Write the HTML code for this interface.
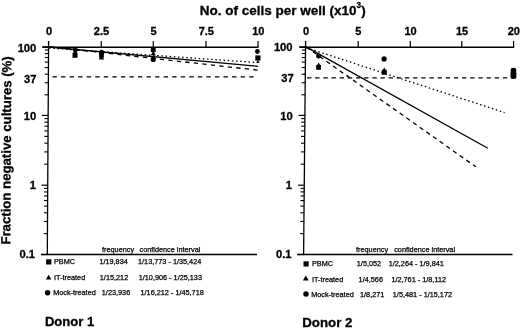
<!DOCTYPE html>
<html><head><meta charset="utf-8"><style>
html,body{margin:0;padding:0;background:#fff;width:520px;height:328px;overflow:hidden}
svg{display:block;will-change:transform}
text{font-family:"Liberation Sans",sans-serif}
</style></head><body>
<svg width="520" height="328" viewBox="0 0 520 328">
<g stroke="#000" fill="none" stroke-linecap="butt">
<line x1="48.60" y1="41.00" x2="47.30" y2="255.10" stroke-width="1.3" />
<line x1="42.30" y1="47.20" x2="258.50" y2="47.20" stroke-width="1.5" />
<line x1="101.30" y1="41.00" x2="101.30" y2="46.90" stroke-width="1.2" />
<line x1="153.30" y1="41.00" x2="153.30" y2="46.90" stroke-width="1.2" />
<line x1="206.00" y1="41.00" x2="206.00" y2="46.90" stroke-width="1.2" />
<line x1="258.00" y1="41.00" x2="258.00" y2="46.90" stroke-width="1.2" />
<line x1="41.00" y1="254.50" x2="257.00" y2="254.50" stroke-width="1.3" />
<line x1="44.60" y1="94.78" x2="48.30" y2="94.78" stroke-width="1.1" />
<line x1="44.68" y1="82.72" x2="48.38" y2="82.72" stroke-width="1.1" />
<line x1="44.73" y1="74.16" x2="48.43" y2="74.16" stroke-width="1.1" />
<line x1="44.77" y1="67.52" x2="48.47" y2="67.52" stroke-width="1.1" />
<line x1="44.80" y1="62.10" x2="48.50" y2="62.10" stroke-width="1.1" />
<line x1="44.83" y1="57.51" x2="48.53" y2="57.51" stroke-width="1.1" />
<line x1="44.86" y1="53.54" x2="48.56" y2="53.54" stroke-width="1.1" />
<line x1="44.88" y1="50.03" x2="48.58" y2="50.03" stroke-width="1.1" />
<line x1="44.17" y1="164.19" x2="47.87" y2="164.19" stroke-width="1.1" />
<line x1="44.24" y1="151.90" x2="47.94" y2="151.90" stroke-width="1.1" />
<line x1="44.30" y1="143.18" x2="48.00" y2="143.18" stroke-width="1.1" />
<line x1="44.34" y1="136.41" x2="48.04" y2="136.41" stroke-width="1.1" />
<line x1="44.37" y1="130.89" x2="48.07" y2="130.89" stroke-width="1.1" />
<line x1="44.40" y1="126.21" x2="48.10" y2="126.21" stroke-width="1.1" />
<line x1="44.43" y1="122.16" x2="48.13" y2="122.16" stroke-width="1.1" />
<line x1="44.45" y1="118.59" x2="48.15" y2="118.59" stroke-width="1.1" />
<line x1="43.73" y1="233.64" x2="47.43" y2="233.64" stroke-width="1.1" />
<line x1="43.81" y1="221.44" x2="47.51" y2="221.44" stroke-width="1.1" />
<line x1="43.86" y1="212.78" x2="47.56" y2="212.78" stroke-width="1.1" />
<line x1="43.90" y1="206.06" x2="47.60" y2="206.06" stroke-width="1.1" />
<line x1="43.94" y1="200.57" x2="47.64" y2="200.57" stroke-width="1.1" />
<line x1="43.97" y1="195.93" x2="47.67" y2="195.93" stroke-width="1.1" />
<line x1="43.99" y1="191.92" x2="47.69" y2="191.92" stroke-width="1.1" />
<line x1="44.01" y1="188.37" x2="47.71" y2="188.37" stroke-width="1.1" />
<line x1="42.30" y1="46.90" x2="48.60" y2="46.90" stroke-width="1.2" />
<line x1="41.87" y1="115.40" x2="48.17" y2="115.40" stroke-width="1.2" />
<line x1="41.43" y1="185.20" x2="47.73" y2="185.20" stroke-width="1.2" />
<line x1="41.00" y1="254.50" x2="47.30" y2="254.50" stroke-width="1.2" />
<line x1="52.50" y1="76.80" x2="256.00" y2="76.80" stroke-width="1.3" stroke-dasharray="4.4 4.15"/>
<line x1="305.60" y1="41.00" x2="303.60" y2="255.10" stroke-width="1.3" />
<line x1="299.30" y1="47.20" x2="514.20" y2="47.20" stroke-width="1.5" />
<line x1="358.20" y1="41.00" x2="358.20" y2="46.90" stroke-width="1.2" />
<line x1="410.30" y1="41.00" x2="410.30" y2="46.90" stroke-width="1.2" />
<line x1="461.80" y1="41.00" x2="461.80" y2="46.90" stroke-width="1.2" />
<line x1="513.60" y1="41.00" x2="513.60" y2="46.90" stroke-width="1.2" />
<line x1="297.30" y1="254.50" x2="512.50" y2="254.50" stroke-width="1.3" />
<line x1="301.44" y1="94.78" x2="305.14" y2="94.78" stroke-width="1.1" />
<line x1="301.55" y1="82.72" x2="305.25" y2="82.72" stroke-width="1.1" />
<line x1="301.64" y1="74.16" x2="305.34" y2="74.16" stroke-width="1.1" />
<line x1="301.70" y1="67.52" x2="305.40" y2="67.52" stroke-width="1.1" />
<line x1="301.75" y1="62.10" x2="305.45" y2="62.10" stroke-width="1.1" />
<line x1="301.80" y1="57.51" x2="305.50" y2="57.51" stroke-width="1.1" />
<line x1="301.84" y1="53.54" x2="305.54" y2="53.54" stroke-width="1.1" />
<line x1="301.87" y1="50.03" x2="305.57" y2="50.03" stroke-width="1.1" />
<line x1="300.77" y1="164.19" x2="304.47" y2="164.19" stroke-width="1.1" />
<line x1="300.89" y1="151.90" x2="304.59" y2="151.90" stroke-width="1.1" />
<line x1="300.97" y1="143.18" x2="304.67" y2="143.18" stroke-width="1.1" />
<line x1="301.04" y1="136.41" x2="304.74" y2="136.41" stroke-width="1.1" />
<line x1="301.09" y1="130.89" x2="304.79" y2="130.89" stroke-width="1.1" />
<line x1="301.14" y1="126.21" x2="304.84" y2="126.21" stroke-width="1.1" />
<line x1="301.17" y1="122.16" x2="304.87" y2="122.16" stroke-width="1.1" />
<line x1="301.21" y1="118.59" x2="304.91" y2="118.59" stroke-width="1.1" />
<line x1="300.10" y1="233.64" x2="303.80" y2="233.64" stroke-width="1.1" />
<line x1="300.22" y1="221.44" x2="303.92" y2="221.44" stroke-width="1.1" />
<line x1="300.30" y1="212.78" x2="304.00" y2="212.78" stroke-width="1.1" />
<line x1="300.37" y1="206.06" x2="304.07" y2="206.06" stroke-width="1.1" />
<line x1="300.42" y1="200.57" x2="304.12" y2="200.57" stroke-width="1.1" />
<line x1="300.46" y1="195.93" x2="304.16" y2="195.93" stroke-width="1.1" />
<line x1="300.50" y1="191.92" x2="304.20" y2="191.92" stroke-width="1.1" />
<line x1="300.54" y1="188.37" x2="304.24" y2="188.37" stroke-width="1.1" />
<line x1="299.30" y1="46.90" x2="305.60" y2="46.90" stroke-width="1.2" />
<line x1="298.64" y1="115.40" x2="304.94" y2="115.40" stroke-width="1.2" />
<line x1="297.97" y1="185.20" x2="304.27" y2="185.20" stroke-width="1.2" />
<line x1="297.30" y1="254.50" x2="303.60" y2="254.50" stroke-width="1.2" />
<line x1="307.00" y1="77.80" x2="508.00" y2="77.80" stroke-width="1.3" stroke-dasharray="4.4 3.76"/>
<line x1="48.60" y1="48.00" x2="255.00" y2="62.40" stroke-width="1.3" stroke-dasharray="1.5 2.66" stroke-dashoffset="3.45"/>
<line x1="48.60" y1="47.00" x2="258.00" y2="66.30" stroke-width="1.3" />
<line x1="48.60" y1="46.60" x2="258.00" y2="70.20" stroke-width="1.3" stroke-dasharray="4.3 4.25" stroke-dashoffset="7.8"/>
<line x1="305.60" y1="47.50" x2="504.60" y2="112.60" stroke-width="1.3" stroke-dasharray="1.5 2.65" stroke-dashoffset="3.24"/>
<line x1="305.60" y1="46.60" x2="487.80" y2="148.30" stroke-width="1.3" />
<line x1="305.60" y1="46.60" x2="475.80" y2="166.80" stroke-width="1.3" stroke-dasharray="4.3 3.86" stroke-dashoffset="7.2"/>
</g>
<g fill="#000" stroke="none">
<circle cx="75.20" cy="49.80" r="2.5"/>
<path d="M75.20 49.54L77.45 53.46L72.95 53.46Z"/>
<rect x="72.50" y="52.80" width="5" height="5"/>
<circle cx="101.60" cy="52.30" r="2.5"/>
<rect x="99.10" y="52.90" width="4.8" height="4.8"/>
<path d="M101.50 54.75L104.20 59.45L98.80 59.45Z"/>
<rect x="150.90" y="47.20" width="4.8" height="4.8"/>
<path d="M153.30 50.83L155.80 55.17L150.80 55.17Z"/>
<circle cx="153.20" cy="59.40" r="2.6"/>
<circle cx="257.40" cy="51.50" r="2.4"/>
<rect x="255.30" y="55.40" width="5.2" height="5.2"/>
<path d="M257.90 59.98L259.65 63.02L256.15 63.02Z"/>
<circle cx="318.60" cy="56.00" r="2.5"/>
<path d="M318.60 62.62L321.10 66.97L316.10 66.97Z"/>
<rect x="316.20" y="65.00" width="4.8" height="4.8"/>
<circle cx="384.10" cy="58.90" r="2.6"/>
<path d="M384.20 67.41L386.95 72.19L381.45 72.19Z"/>
<rect x="381.70" y="69.80" width="5" height="5"/>
<rect x="510.7" y="67.8" width="5.5" height="11" rx="2.75" ry="2.4"/>
<rect x="510.7" y="72" width="5.5" height="6.6" rx="0.8"/>
</g>
<g fill="#000" font-family="Liberation Sans, sans-serif">
<text x="199.8" y="14.5" font-size="13.5" font-weight="bold" stroke="#000" stroke-width="0.3">No. of cells per well (x10<tspan font-size="8.2" dy="-6.3">3</tspan><tspan dy="6.3">)</tspan></text>
<text transform="translate(10.2,244.6) rotate(-89.62)" font-size="13.2" font-weight="bold" stroke="#000" stroke-width="0.3">Fraction negative cultures (%)</text>
<text x="49.1" y="34.8" font-size="11" font-weight="bold" text-anchor="middle" stroke="#000" stroke-width="0.3">0</text>
<text x="101.5" y="34.8" font-size="11" font-weight="bold" text-anchor="middle" stroke="#000" stroke-width="0.3">2.5</text>
<text x="153.6" y="34.8" font-size="11" font-weight="bold" text-anchor="middle" stroke="#000" stroke-width="0.3">5</text>
<text x="206.3" y="34.8" font-size="11" font-weight="bold" text-anchor="middle" stroke="#000" stroke-width="0.3">7.5</text>
<text x="258.3" y="34.8" font-size="11" font-weight="bold" text-anchor="middle" stroke="#000" stroke-width="0.3">10</text>
<text x="306" y="34.8" font-size="11" font-weight="bold" text-anchor="middle" stroke="#000" stroke-width="0.3">0</text>
<text x="358.2" y="34.8" font-size="11" font-weight="bold" text-anchor="middle" stroke="#000" stroke-width="0.3">5</text>
<text x="410.5" y="34.8" font-size="11" font-weight="bold" text-anchor="middle" stroke="#000" stroke-width="0.3">10</text>
<text x="462.0" y="34.8" font-size="11" font-weight="bold" text-anchor="middle" stroke="#000" stroke-width="0.3">15</text>
<text x="513.8" y="34.8" font-size="11" font-weight="bold" text-anchor="middle" stroke="#000" stroke-width="0.3">20</text>
<text x="36.3" y="51.55" font-size="11.2" font-weight="bold" text-anchor="end" stroke="#000" stroke-width="0.3">100</text>
<text x="36.45" y="82.55" font-size="11.2" font-weight="bold" text-anchor="end" stroke="#000" stroke-width="0.3">37</text>
<text x="36.2" y="120.35" font-size="11.2" font-weight="bold" text-anchor="end" stroke="#000" stroke-width="0.3">10</text>
<text x="36.05" y="189.35" font-size="11.2" font-weight="bold" text-anchor="end" stroke="#000" stroke-width="0.3">1</text>
<text x="35.05" y="258.25" font-size="11.2" font-weight="bold" text-anchor="end" stroke="#000" stroke-width="0.3">0.1</text>
<text x="292.55" y="50.85" font-size="11.2" font-weight="bold" text-anchor="end" stroke="#000" stroke-width="0.3">100</text>
<text x="293.7" y="82.1" font-size="11.2" font-weight="bold" text-anchor="end" stroke="#000" stroke-width="0.3">37</text>
<text x="292.8" y="119.85" font-size="11.2" font-weight="bold" text-anchor="end" stroke="#000" stroke-width="0.3">10</text>
<text x="291.95" y="189.1" font-size="11.2" font-weight="bold" text-anchor="end" stroke="#000" stroke-width="0.3">1</text>
<text x="291.55" y="258.1" font-size="11.2" font-weight="bold" text-anchor="end" stroke="#000" stroke-width="0.3">0.1</text>
<text x="102" y="252.2" font-size="7.3" font-weight="normal" text-anchor="start" stroke="#000" stroke-width="0.25">frequency</text>
<text x="139.5" y="252.2" font-size="7.3" font-weight="normal" text-anchor="start" stroke="#000" stroke-width="0.25">confidence interval</text>
<text x="54" y="264.4" font-size="7.3" font-weight="normal" text-anchor="start" stroke="#000" stroke-width="0.25">PBMC</text>
<text x="99.4" y="264.4" font-size="7.3" font-weight="normal" text-anchor="start" stroke="#000" stroke-width="0.25">1/19,834</text>
<text x="138.0" y="264.4" font-size="7.3" font-weight="normal" text-anchor="start" stroke="#000" stroke-width="0.25">1/13,773 - 1/35,424</text>
<text x="54" y="280.1" font-size="7.3" font-weight="normal" text-anchor="start" stroke="#000" stroke-width="0.25">IT-treated</text>
<text x="99.8" y="280.1" font-size="7.3" font-weight="normal" text-anchor="start" stroke="#000" stroke-width="0.25">1/15,212</text>
<text x="138.7" y="280.1" font-size="7.3" font-weight="normal" text-anchor="start" stroke="#000" stroke-width="0.25">1/10,906 - 1/25,133</text>
<text x="53.2" y="295.4" font-size="7.3" font-weight="normal" text-anchor="start" stroke="#000" stroke-width="0.25">Mock-treated</text>
<text x="101.8" y="295.4" font-size="7.3" font-weight="normal" text-anchor="start" stroke="#000" stroke-width="0.25">1/23,936</text>
<text x="140.5" y="295.4" font-size="7.3" font-weight="normal" text-anchor="start" stroke="#000" stroke-width="0.25">1/16,212 - 1/45,718</text>
<text x="356" y="252.2" font-size="7.3" font-weight="normal" text-anchor="start" stroke="#000" stroke-width="0.25">frequency</text>
<text x="394.2" y="252.2" font-size="7.3" font-weight="normal" text-anchor="start" stroke="#000" stroke-width="0.25">confidence interval</text>
<text x="312" y="266.3" font-size="7.3" font-weight="normal" text-anchor="start" stroke="#000" stroke-width="0.25">PBMC</text>
<text x="356.8" y="266.3" font-size="7.3" font-weight="normal" text-anchor="start" stroke="#000" stroke-width="0.25">1/5,052</text>
<text x="388.7" y="266.3" font-size="7.3" font-weight="normal" text-anchor="start" stroke="#000" stroke-width="0.25">1/2,264 - 1/9,841</text>
<text x="312" y="281.8" font-size="7.3" font-weight="normal" text-anchor="start" stroke="#000" stroke-width="0.25">IT-treated</text>
<text x="358.6" y="281.8" font-size="7.3" font-weight="normal" text-anchor="start" stroke="#000" stroke-width="0.25">1/4,566</text>
<text x="391.4" y="281.8" font-size="7.3" font-weight="normal" text-anchor="start" stroke="#000" stroke-width="0.25">1/2,761 - 1/8,112</text>
<text x="311.2" y="296.9" font-size="7.3" font-weight="normal" text-anchor="start" stroke="#000" stroke-width="0.25">Mock-treated</text>
<text x="360.0" y="296.9" font-size="7.3" font-weight="normal" text-anchor="start" stroke="#000" stroke-width="0.25">1/8,271</text>
<text x="392.8" y="296.9" font-size="7.3" font-weight="normal" text-anchor="start" stroke="#000" stroke-width="0.25">1/5,481 - 1/15,172</text>
<text x="44.9" y="326.1" font-size="13.1" font-weight="bold" text-anchor="start" stroke="#000" stroke-width="0.3">Donor 1</text>
<text x="302.2" y="326.7" font-size="13.3" font-weight="bold" text-anchor="start" stroke="#000" stroke-width="0.3">Donor 2</text>
</g>
<g fill="#000">
<rect x="46.15" y="259.30" width="5.2" height="5.2"/>
<path d="M48.65 274.66L51.45 279.54L45.85 279.54Z"/>
<circle cx="47.60" cy="292.80" r="2.7"/>
<rect x="303.50" y="261.30" width="5.2" height="5.2"/>
<path d="M305.80 275.58L308.70 280.62L302.90 280.62Z"/>
<circle cx="306.00" cy="294.10" r="2.75"/>
</g>
</svg>
</body></html>
